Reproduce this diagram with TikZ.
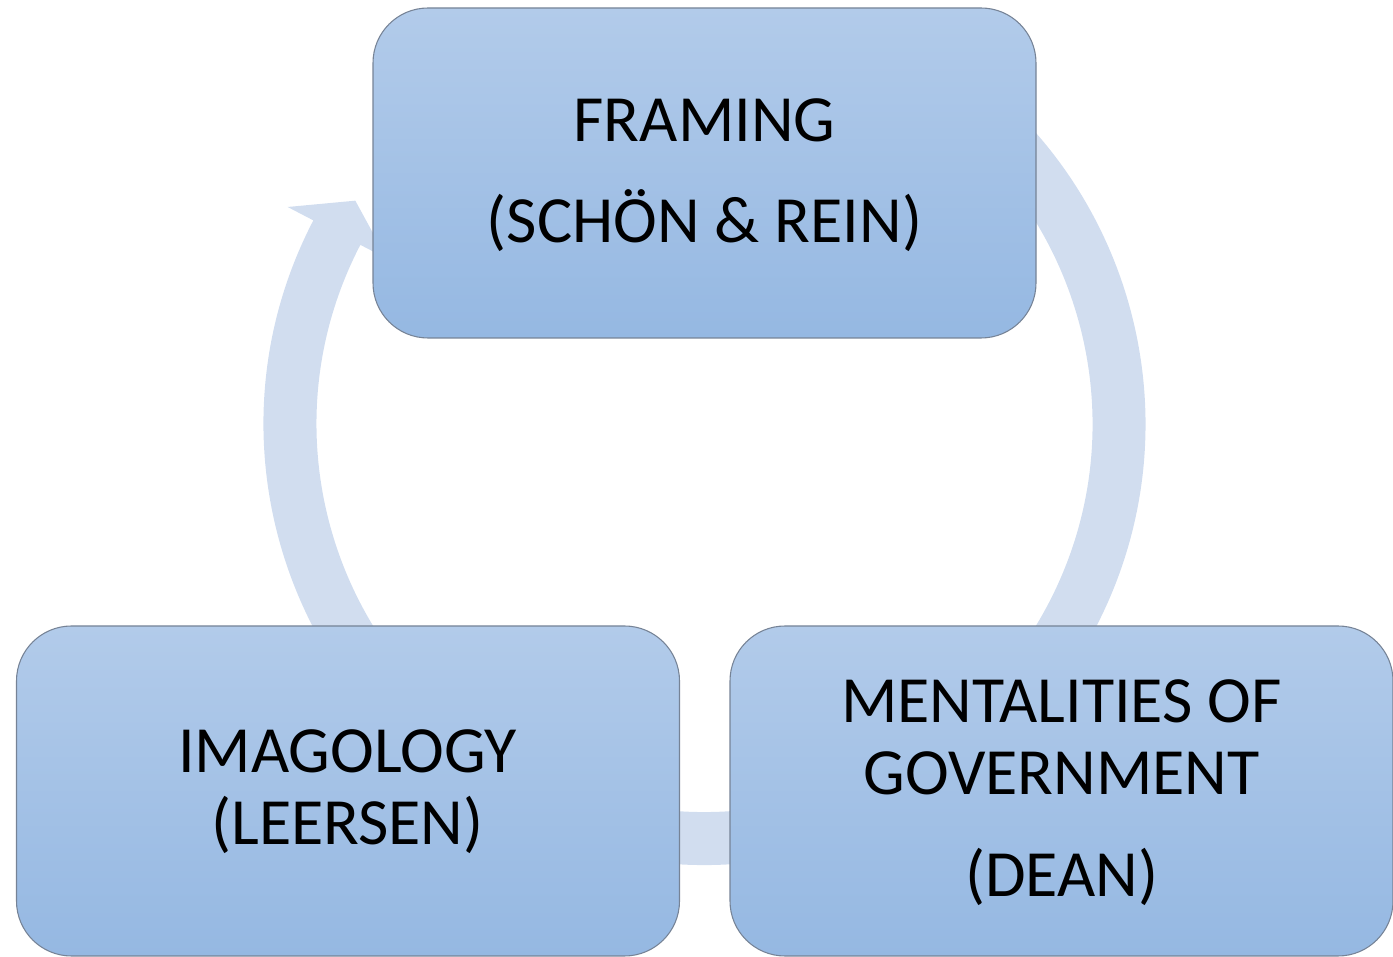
\documentclass[tikz,border=0pt]{standalone}
\usepackage{fontspec}
\setmainfont{Carlito}
\definecolor{ringcol}{RGB}{209,221,239}
\definecolor{boxtop}{RGB}{178,203,234}
\definecolor{boxbot}{RGB}{149,184,226}
\definecolor{boxline}{RGB}{118,131,150}
\tikzset{
  cyclebox/.style={rectangle, rounded corners=41.25pt, minimum width=497.25pt,
    minimum height=247.5pt, inner sep=0pt, draw=boxline, line width=0.8pt,
    top color=boxtop, bottom color=boxbot},
  boxtext/.style={anchor=base, inner sep=0pt, text=black,
    font=\fontsize{49.5}{49.5}\selectfont}
}
\begin{document}
\begin{tikzpicture}[x=0.75pt,y=0.75pt]
\useasboundingbox (0,0) rectangle (1393,957);
% circular arrow
\begin{scope}[shift={(704.5,533)}]
\fill[ringcol] (152.5:330.75pt) arc[start angle=152.5, end angle=420, radius=330.75pt]
  -- (420:291pt) arc[start angle=420, end angle=152.5, radius=291pt]
  -- (152.5:268.5pt) -- (147.4:310.9pt) -- (152.5:352.5pt) -- cycle;
\end{scope}
% boxes
\node[cyclebox] (top) at (704.5,784) {};
\node[cyclebox] (left) at (348,166) {};
\node[cyclebox] (right) at (1061.5,166) {};
% texts
\node[boxtext] (t1) at (704.5,815) {FRAMING};
\node[boxtext] (t2) at (704.5,714) {(SCHÖN \& REIN)};
\node[boxtext] (t3) at (347.5,184) {IMAGOLOGY};
\node[boxtext] (t4) at (347.5,112) {(LEERSEN)};
\node[boxtext] (t5) at (1061.5,234) {MENTALITIES OF};
\node[boxtext] (t6) at (1061.5,162) {GOVERNMENT};
\node[boxtext] (t7) at (1061.5,60) {(DEAN)};
\end{tikzpicture}
\end{document}
